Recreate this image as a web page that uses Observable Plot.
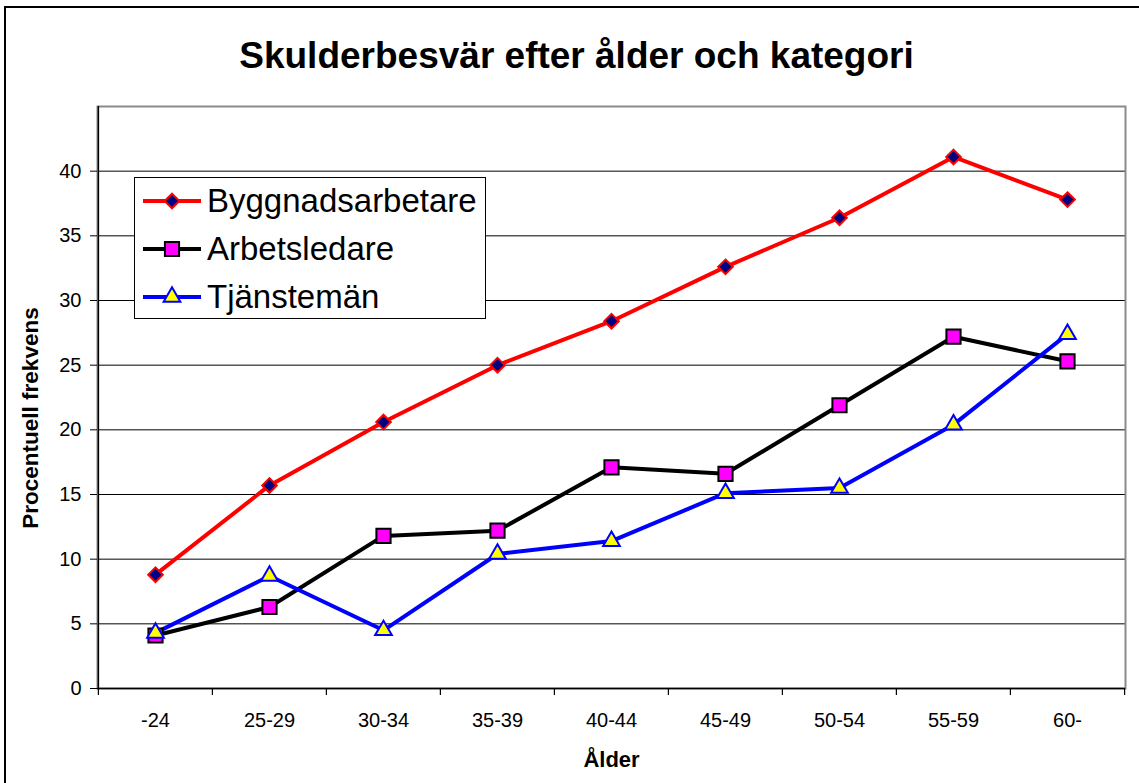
<!DOCTYPE html>
<html>
<head>
<meta charset="utf-8">
<script src="https://cdn.jsdelivr.net/npm/d3@7"></script>
<script src="https://cdn.jsdelivr.net/npm/@observablehq/plot@0.6"></script>
<style>
  html, body { margin: 0; padding: 0; background: #fff; }
  #wrap { position: relative; width: 1139px; height: 783px; overflow: hidden; font-family: "Liberation Sans", Arial, sans-serif; }
  #border { position: absolute; left: 4px; top: 6px; width: 1200px; height: 900px; border: 2px solid #000; box-sizing: border-box; }
  #title { position: absolute; left: 0; width: 1153px; top: 35px; text-align: center; font-weight: bold; font-size: 37px; color: #000; }
  #chart { position: absolute; left: 0; top: 0; }
  #ylabel { position: absolute; left: 31px; top: 418px; transform: translate(-50%, -50%) rotate(-90deg); font-weight: bold; font-size: 22.5px; white-space: nowrap; line-height: 1; }
  #legend { position: absolute; left: 134px; top: 177px; width: 352px; height: 142px; border: 1.5px solid #000; background: #fff; box-sizing: border-box; }
</style>
</head>
<body>
<div id="wrap">
  <div id="border"></div>
  <div id="chart"></div>
  <div id="title"></div>
  <div id="ylabel"></div>
  <div id="legend"></div>
</div>
<script>
const titleText = "Skulderbesvär efter ålder och kategori";
const xLabel = "Ålder";
const yLabel = "Procentuell frekvens";
const ages = ["-24", "25-29", "30-34", "35-39", "40-44", "45-49", "50-54", "55-59", "60-"];
const yTicks = [0, 5, 10, 15, 20, 25, 30, 35, 40];
const seriesNames = ["Byggnadsarbetare", "Arbetsledare", "Tjänstemän"];
const byggnadsarbetare = [8.8, 15.7, 20.6, 25.0, 28.4, 32.6, 36.4, 41.1, 37.8];
const arbetsledare = [4.1, 6.3, 11.8, 12.2, 17.1, 16.6, 21.9, 27.2, 25.3];
const tjansteman = [4.3, 8.7, 4.5, 10.4, 11.4, 15.1, 15.5, 20.4, 27.4];

const W = 1139, H = 783;
const mL = 97, mR = 14, mT = 106, mB = 95;
const step = (W - mL - mR) / ages.length;

const styles = [
  {values: byggnadsarbetare, line: "#ff0000", symbol: "diamond2", fill: "#000080", stroke: "#ff0000", r: 6.6},
  {values: arbetsledare, line: "#000000", symbol: "square", fill: "#ff00ff", stroke: "#000000", r: 8},
  {values: tjansteman, line: "#0000ff", symbol: "triangle", fill: "#ffff00", stroke: "#0000ff", r: 6.2}
];

const rows = styles.map((s, i) => ages.map((a, j) => ({age: a, value: s.values[j], series: seriesNames[i]})));

const marks = [
  Plot.gridY(yTicks, {stroke: "#000", strokeOpacity: 1, strokeWidth: 1}),
  Plot.frame({stroke: "#8a8a8a", strokeWidth: 2}),
  Plot.axisY(yTicks, {tickSize: 7, tickPadding: 9, fontSize: 20, label: null, stroke: "#000", strokeWidth: 1}),
  Plot.axisX(ages, {tickSize: 0, tickPadding: 24, fontSize: 20, label: null}),
  Plot.axisX(ages, {tickSize: 7, tickFormat: () => "", dx: -step / 2, label: null, strokeWidth: 1.2}),
  Plot.axisX([ages[ages.length - 1]], {tickSize: 7, tickFormat: () => "", dx: step / 2, label: null, strokeWidth: 1.2}),
  Plot.ruleX([0], {x: () => ages[0], dx: -step / 2, stroke: "#000", strokeWidth: 1.5}),
  Plot.ruleY([0], {stroke: "#000", strokeWidth: 1.5}),
  Plot.text([xLabel], {frameAnchor: "bottom", dy: 78, fontWeight: "bold", fontSize: 22, text: d => d, lineAnchor: "bottom"})
];
styles.forEach((s, i) => {
  marks.push(Plot.line(rows[i], {x: "age", y: "value", stroke: s.line, strokeWidth: 4}));
});
styles.forEach((s, i) => {
  marks.push(Plot.dot(rows[i], {x: "age", y: "value", symbol: () => s.symbol, fill: s.fill, stroke: s.stroke, strokeWidth: 2, r: s.r}));
});

const chart = Plot.plot({
  width: W, height: H,
  marginLeft: mL, marginRight: mR, marginTop: mT, marginBottom: mB,
  style: {fontFamily: "'Liberation Sans', Arial, sans-serif", fontSize: "20px", color: "#000", background: "transparent"},
  x: {type: "point", domain: ages, padding: 0.5, axis: null},
  y: {domain: [0, 45], axis: null},
  symbol: {type: "identity"},
  marks
});
document.getElementById("chart").appendChild(chart);
document.getElementById("title").textContent = titleText;
document.getElementById("ylabel").textContent = yLabel;

// legend
const leg = document.getElementById("legend");
const rowY = [23, 71, 119];
const ns = "http://www.w3.org/2000/svg";
const svg = document.createElementNS(ns, "svg");
svg.setAttribute("width", 350); svg.setAttribute("height", 140);
svg.style.position = "absolute"; svg.style.left = "0"; svg.style.top = "0";
const symMap = {diamond2: d3.symbolDiamond2, square: d3.symbolSquare, triangle: d3.symbolTriangle};
styles.forEach((s, i) => {
  const y = rowY[i];
  const g = d3.select(svg).append("g");
  g.append("line").attr("x1", 8).attr("x2", 66).attr("y1", y).attr("y2", y).attr("stroke", s.line).attr("stroke-width", 4);
  g.append("path").attr("d", d3.symbol(symMap[s.symbol], s.r * s.r * Math.PI)()).attr("transform", `translate(37,${y})`)
    .attr("fill", s.fill).attr("stroke", s.stroke).attr("stroke-width", 2);
  g.append("text").attr("x", 72).attr("y", y + 11).attr("font-size", 33).attr("font-family", "'Liberation Sans', Arial, sans-serif").attr("fill", "#000").text(seriesNames[i]);
});
leg.appendChild(svg);
</script>
</body>
</html>
